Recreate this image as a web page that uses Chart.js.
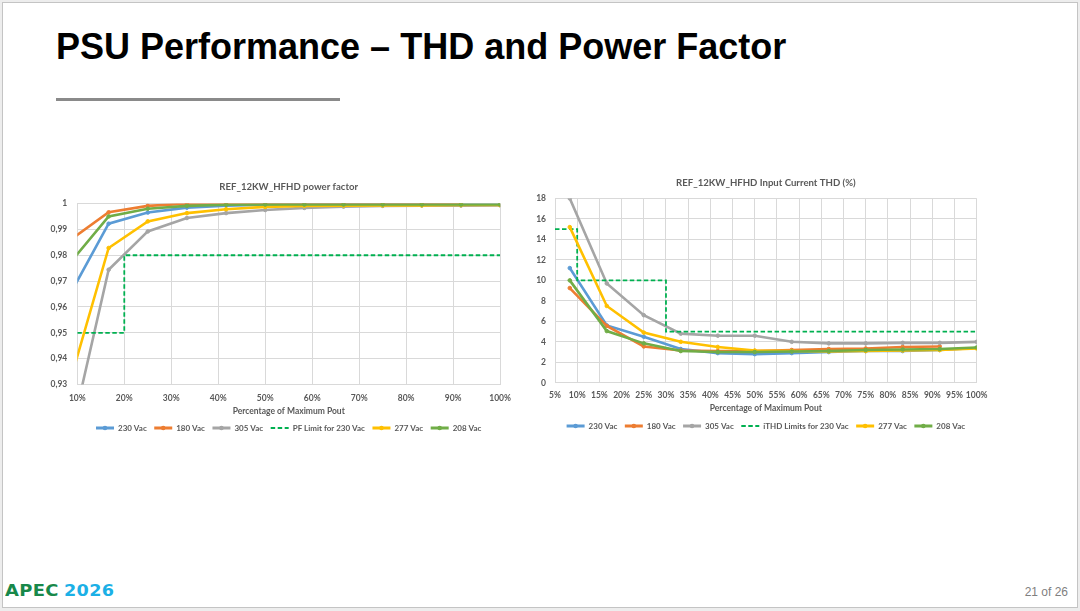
<!DOCTYPE html>
<html>
<head>
<meta charset="utf-8">
<script src="https://cdn.jsdelivr.net/npm/chart.js@4.4.1/dist/chart.umd.min.js"></script>
<style>
  html, body { margin: 0; padding: 0; }
  body { width: 1080px; height: 611px; position: relative; overflow: hidden; background: #ededed; font-family: "Liberation Sans", Arial, sans-serif; }
  #slide { position: absolute; left: 2px; top: 2px; width: 1074px; height: 604px; background: #fff; border: 1px solid #c4c4c4; }
  #title { position: absolute; left: 56px; top: 29px; font-size: 36px; line-height: 36px; font-weight: bold; color: #000; white-space: nowrap; }
  #rule { position: absolute; left: 56px; top: 98px; width: 284px; height: 3px; background: #8a8a8a; }
  #page { position: absolute; right: 12px; top: 586px; font-size: 12px; line-height: 12px; color: #7f7f7f; }
  #logo { position: absolute; left: 5px; top: 583px; font-family: "DejaVu Sans", sans-serif; font-size: 16px; line-height: 16px; font-weight: bold; white-space: nowrap; }
  #logo span { display: inline-block; transform-origin: 0 50%; }
  #logo .a { color: #18884a; letter-spacing: 0.3px; transform: scaleX(1.12); width: 55px; }
  #logo .b { color: #1bb0e6; letter-spacing: 0.3px; transform: scaleX(1.1); margin-left: 4px; }
  #c1 { position: absolute; left: 40px; top: 170px; }
  #c2 { position: absolute; left: 530px; top: 166px; }
</style>
</head>
<body>
<div id="slide"></div>
<div id="title">PSU Performance – THD and Power Factor</div>
<div id="rule"></div>
<canvas id="c1" width="480" height="272"></canvas>
<canvas id="c2" width="470" height="274"></canvas>
<div id="logo"><span class="a">APEC</span><span class="b">2026</span></div>
<div id="page">21 of 26</div>
<script>
// ---- data ----
const loadPct = [8.33, 16.67, 25, 33.33, 41.67, 50, 58.33, 66.67, 75, 83.33, 91.67, 100];
const seriesNames = ['230 Vac', '180 Vac', '305 Vac', '277 Vac', '208 Vac'];
const pfLimitName = 'PF Limit for 230 Vac';
const thdLimitName = 'iTHD Limits for 230 Vac';

const pf230 = [0.9645, 0.9922, 0.9965, 0.9984, 0.9992, 0.9995, 0.9996, 0.9996, 0.9996, 0.9996, 0.9996, 0.9996];
const pf180 = [0.9857, 0.9966, 0.9991, 0.9999, 0.9999, 0.9999, 0.9999, 0.9999, 0.9999, 0.9999, 0.9999, null];
const pf305 = [0.908, 0.9744, 0.9892, 0.9944, 0.9963, 0.9975, 0.9983, 0.9988, 0.9991, 0.9992, 0.9992, 0.9993];
const pf277 = [0.9304, 0.9828, 0.9931, 0.9963, 0.9978, 0.9987, 0.9991, 0.9992, 0.9993, 0.9993, 0.9994, 0.9994];
const pf208 = [0.9768, 0.9950, 0.9980, 0.9991, 0.9995, 0.9996, 0.9996, 0.9996, 0.9996, 0.9996, 0.9996, 0.9996];
const pfLimitX = [10, 20, 20, 100];
const pfLimitY = [0.95, 0.95, 0.98, 0.98];

const thd230 = [11.2, 5.6, 4.5, 3.3, 2.9, 2.8, 2.9, 3.0, 3.1, 3.1, 3.2, 3.4];
const thd180 = [9.25, 5.55, 3.55, 3.15, 3.1, 3.1, 3.2, 3.3, 3.35, 3.5, 3.55, null];
const thd305 = [18.0, 9.7, 6.6, 4.8, 4.6, 4.6, 4.0, 3.85, 3.85, 3.9, 3.9, 4.0];
const thd277 = [15.2, 7.5, 4.9, 4.0, 3.5, 3.15, 3.1, 3.05, 3.1, 3.15, 3.2, 3.35];
const thd208 = [10.0, 5.05, 3.85, 3.1, 3.0, 3.0, 3.05, 3.1, 3.2, 3.25, 3.3, 3.45];
const thdLimitX = [5, 10, 10, 30, 30, 100];
const thdLimitY = [15, 15, 10, 10, 5, 5];

const pfTickMin = 0.93, pfTickMax = 1, pfTickStep = 0.01;
const thdTickMin = 0, thdTickMax = 18, thdTickStep = 2;

// ---- styling ----
const colors = { v230: '#5B9BD5', v180: '#ED7D31', v305: '#A5A5A5', v277: '#FFC000', v208: '#70AD47', limit: '#00B050' };
const txt = '#595959';
const grid = '#d9d9d9';
const FAM = 'Lato, "Open Sans", sans-serif';
Chart.defaults.font.family = FAM;
Chart.defaults.color = txt;

function pts(xs, ys) { return xs.map((x, i) => ({ x: x, y: ys[i] })); }

function seriesDs(label, ys, color, order) {
  return {
    label: label, data: pts(loadPct, ys), borderColor: color, backgroundColor: color,
    borderWidth: 2.6, pointRadius: 1.8, pointBorderWidth: 1, pointBackgroundColor: color,
    pointBorderColor: color, tension: 0, order: order, spanGaps: false
  };
}
function limitDs(label, xs, ys, order) {
  return {
    label: label, data: pts(xs, ys), borderColor: colors.limit, backgroundColor: colors.limit,
    borderWidth: 1.8, borderDash: [4.5, 2.5], pointRadius: 0, tension: 0, order: order
  };
}

const legendDots = {
  id: 'legendDots',
  afterDraw(chart) {
    const lg = chart.legend;
    if (!lg || !lg.legendHitBoxes) return;
    const bw = lg.options.labels.pointStyleWidth;
    const ctx = chart.ctx;
    lg.legendItems.forEach((it, i) => {
      if (it.lineDash && it.lineDash.length) return;
      const hb = lg.legendHitBoxes[i];
      ctx.save();
      ctx.fillStyle = it.strokeStyle;
      ctx.beginPath();
      ctx.arc(hb.left + bw / 2, hb.top + hb.height / 2, 2.3, 0, Math.PI * 2);
      ctx.fill();
      ctx.restore();
    });
  }
};

function legendLabels(chart) {
  return chart.data.datasets.map((ds, i) => ({
    text: ds.label, fillStyle: ds.borderColor, strokeStyle: ds.borderColor,
    lineWidth: ds.borderDash ? 1.8 : 3, lineDash: ds.borderDash || [], lineCap: 'butt',
    pointStyle: 'line', hidden: false, datasetIndex: i, fontColor: txt
  }));
}

function makeOptions(o) {
  return {
    responsive: false, animation: false, devicePixelRatio: 1,
    layout: { padding: { left: 0, right: o.padRight, top: 0, bottom: 0 } },
    plugins: {
      title: { display: true, fullSize: false, text: o.title, color: txt, font: { size: 9.6, weight: 'bold', family: FAM }, padding: o.titlePad },
      legend: {
        position: 'bottom', fullSize: false,
        labels: {
          usePointStyle: true, pointStyle: 'line', pointStyleWidth: 18, padding: o.legendPad, color: txt,
          font: { size: 8, weight: 'bold', family: FAM },
          generateLabels: legendLabels
        }
      },
      tooltip: { enabled: false }
    },
    scales: {
      x: {
        type: 'linear', min: o.xMin, max: o.xMax,
        afterFit: (s) => { s.height = o.xHeight; },
        afterBuildTicks: (s) => { s.ticks = o.xTicks.map(v => ({ value: v })); },
        ticks: { callback: v => v + '%', color: txt, font: { size: 8.5, weight: 'bold', family: FAM }, padding: o.xTickPad, maxRotation: 0, autoSkip: false },
        grid: { color: grid, drawTicks: false, lineWidth: 1 },
        border: { display: true, color: grid },
        title: { display: true, text: 'Percentage of Maximum Pout', color: txt, font: { size: 8.5, weight: 'bold', family: FAM }, padding: { top: 0, bottom: o.xTitlePad } }
      },
      y: {
        type: 'linear', min: o.yMin, max: o.yMax,
        afterFit: (s) => { s.width = o.yWidth; },
        ticks: { stepSize: o.yStep, callback: o.yFmt, color: txt, font: { size: 8.5, weight: 'bold', family: FAM }, padding: o.yTickPad },
        grid: { color: grid, drawTicks: false, lineWidth: 1 },
        border: { display: false }
      }
    }
  };
}

function range(a, b, s) { const r = []; for (let v = a; v <= b + 1e-9; v += s) r.push(Math.round(v * 1000) / 1000); return r; }

new Chart(document.getElementById('c1'), {
  type: 'line',
  data: {
    datasets: [
      seriesDs(seriesNames[0], pf230, colors.v230, 5),
      seriesDs(seriesNames[1], pf180, colors.v180, 4),
      seriesDs(seriesNames[2], pf305, colors.v305, 3),
      limitDs(pfLimitName, pfLimitX, pfLimitY, 2),
      seriesDs(seriesNames[3], pf277, colors.v277, 1),
      seriesDs(seriesNames[4], pf208, colors.v208, 0)
    ]
  },
  options: makeOptions({
    title: 'REF_12KW_HFHD power factor', titlePad: { top: 11, bottom: 11 }, padRight: 15.7,
    legendPad: 7.5, xMin: 10, xMax: 100, xTicks: range(10, 100, 10), xHeight: 32, xTickPad: 9, xTitlePad: 0.6,
    yMin: pfTickMin, yMax: pfTickMax, yStep: pfTickStep, yWidth: 37.3, yTickPad: 10,
    yFmt: v => (Math.abs(v - 1) < 1e-9 ? '1' : v.toFixed(2).replace('.', ','))
  }),
  plugins: [legendDots]
});

new Chart(document.getElementById('c2'), {
  type: 'line',
  data: {
    datasets: [
      seriesDs(seriesNames[0], thd230, colors.v230, 5),
      seriesDs(seriesNames[1], thd180, colors.v180, 4),
      seriesDs(seriesNames[2], thd305, colors.v305, 3),
      limitDs(thdLimitName, thdLimitX, thdLimitY, 2),
      seriesDs(seriesNames[3], thd277, colors.v277, 1),
      seriesDs(seriesNames[4], thd208, colors.v208, 0)
    ]
  },
  options: makeOptions({
    title: 'REF_12KW_HFHD Input Current THD (%)', titlePad: { top: 11.3, bottom: 9.6 }, padRight: 23.3,
    legendPad: 7.5, xMin: 5, xMax: 100, xTicks: range(5, 100, 5), xHeight: 31.7, xTickPad: 7.5, xTitlePad: 1.6,
    yMin: thdTickMin, yMax: thdTickMax, yStep: thdTickStep, yWidth: 25, yTickPad: 9,
    yFmt: v => String(Math.round(v))
  }),
  plugins: [legendDots]
});
</script>
</body>
</html>
